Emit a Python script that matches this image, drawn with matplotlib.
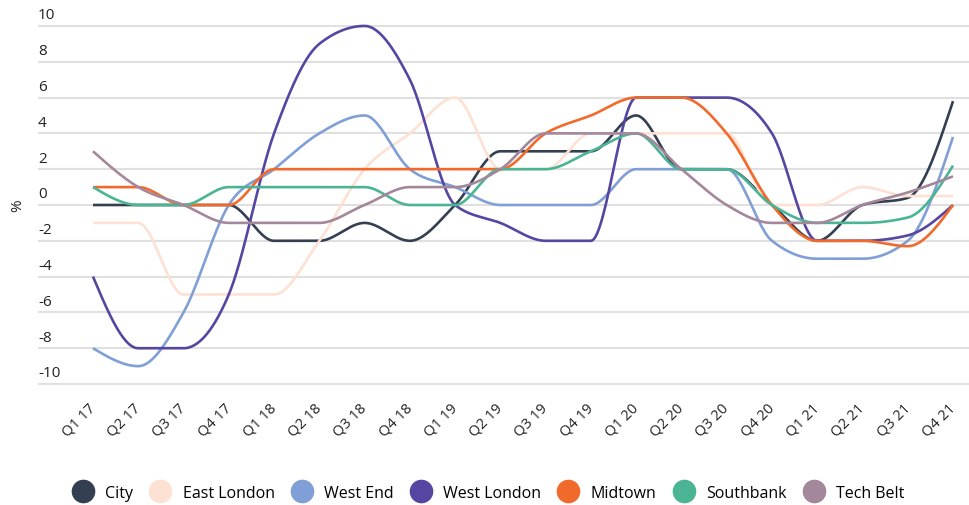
import numpy as np
import matplotlib
matplotlib.use("Agg")
import matplotlib.pyplot as plt
from matplotlib.lines import Line2D

plt.rcParams["font.family"] = ["Open Sans", "DejaVu Sans"]

quarters = ["Q1 17", "Q2 17", "Q3 17", "Q4 17", "Q1 18", "Q2 18", "Q3 18", "Q4 18",
            "Q1 19", "Q2 19", "Q3 19", "Q4 19", "Q1 20", "Q2 20", "Q3 20", "Q4 20",
            "Q1 21", "Q2 21", "Q3 21", "Q4 21"]

city = [0, 0, 0, 0, -2, -2, -1, -2, 0, 3, 3, 3, 5, 2, 2, 0, -2, 0, 0.4, 5.8]
east_london = [-1, -1, -5, -5, -5, -2, 2, 4, 6, 2, 2, 4, 4, 4, 4, 0, 0, 1, 0.5, 0.5]
west_end = [-8, -9, -6, 0, 2, 4, 5, 2, 1, 0, 0, 0, 2, 2, 2, -2, -3, -3, -2, 3.8]
west_london = [-4, -8, -8, -5, 4, 9, 10, 7, 0, -1, -2, -2, 6, 6, 6, 4, -2, -2, -1.7, 0]
midtown = [1, 1, 0, 0, 2, 2, 2, 2, 2, 2, 4, 5, 6, 6, 4, 0, -2, -2, -2.3, 0]
southbank = [1, 0, 0, 1, 1, 1, 1, 0, 0, 2, 2, 3, 4, 2, 2, 0, -1, -1, -0.7, 2.2]
tech_belt = [3, 1, 0, -1, -1, -1, 0, 1, 1, 2, 4, 4, 4, 2, 0, -1, -1, 0, 0.7, 1.6]

series = [
    ("City", city, "#343f52"),
    ("East London", east_london, "#fde1d3"),
    ("West End", west_end, "#7f9fd6"),
    ("West London", west_london, "#5646a1"),
    ("Midtown", midtown, "#f26a2b"),
    ("Southbank", southbank, "#4bb494"),
    ("Tech Belt", tech_belt, "#a4879b"),
]


def monotone_curve(y, n=30):
    # courbe monotone (même principe que d3.curveMonotoneX)
    y = np.asarray(y, dtype=float)
    x = np.arange(len(y), dtype=float)
    s = np.diff(y)
    m = np.zeros(len(y))
    for i in range(1, len(y) - 1):
        s0, s1 = s[i - 1], s[i]
        p = (s0 + s1) / 2
        m[i] = (np.sign(s0) + np.sign(s1)) * min(abs(s0), abs(s1), 0.5 * abs(p))
    m[0] = (3 * s[0] - m[1]) / 2
    m[-1] = (3 * s[-1] - m[-2]) / 2
    xs, ys = [], []
    for i in range(len(y) - 1):
        t = np.linspace(0, 1, n, endpoint=False)
        h00 = 2 * t**3 - 3 * t**2 + 1
        h10 = t**3 - 2 * t**2 + t
        h01 = -2 * t**3 + 3 * t**2
        h11 = t**3 - t**2
        xs.append(x[i] + t)
        ys.append(h00 * y[i] + h10 * m[i] + h01 * y[i + 1] + h11 * m[i + 1])
    xs.append([x[-1]])
    ys.append([y[-1]])
    return np.concatenate(xs), np.concatenate(ys)


fig = plt.figure(figsize=(9.7, 5.06), dpi=100)
ax = fig.add_axes([38 / 970, 1 - 394 / 506, 1 - 38 / 970, 376 / 506])

for name, vals, color in series:
    cx, cy = monotone_curve(vals)
    ax.plot(cx, cy, color=color, linewidth=1.9, solid_capstyle="butt", zorder=3)

ax.set_ylim(-10.5, 10.5)
ax.set_xlim(-(93 - 38) / 45.26, 19 + (970 - 953) / 45.26)

yticks = np.arange(-10, 11, 2)
ax.set_yticks(yticks)
ax.yaxis.grid(True, color="#e0e0e0", linewidth=1.5, zorder=0)
ax.tick_params(axis="y", length=0, labelleft=False)
for v in yticks:
    ax.text(0, v + 0.62, str(v), transform=ax.get_yaxis_transform(),
            ha="left", va="center", fontsize=11, color="#222222")

ax.set_xticks(range(len(quarters)))
ax.set_xticklabels(quarters, rotation=45, ha="right", va="center",
                   rotation_mode="anchor", fontsize=10.5, color="#222222")
ax.tick_params(axis="x", length=0, pad=9)

for sp in ax.spines.values():
    sp.set_visible(False)

fig.text(18 / 970, 1 - 206 / 506, "%", rotation=90, ha="center", va="center",
         fontsize=11, color="#222222")

handles = [Line2D([], [], marker="o", linestyle="none", markersize=16,
                  markerfacecolor=c, markeredgecolor=c) for _, _, c in series]
fig.legend(handles, [s[0] for s in series], loc="center", ncol=7,
           frameon=False, fontsize=11.5, bbox_to_anchor=(0.503, 1 - 494 / 506),
           handletextpad=0.7, columnspacing=1.0, handlelength=1.4,
           borderpad=0, borderaxespad=0)

fig.savefig("out.png", dpi=100)
